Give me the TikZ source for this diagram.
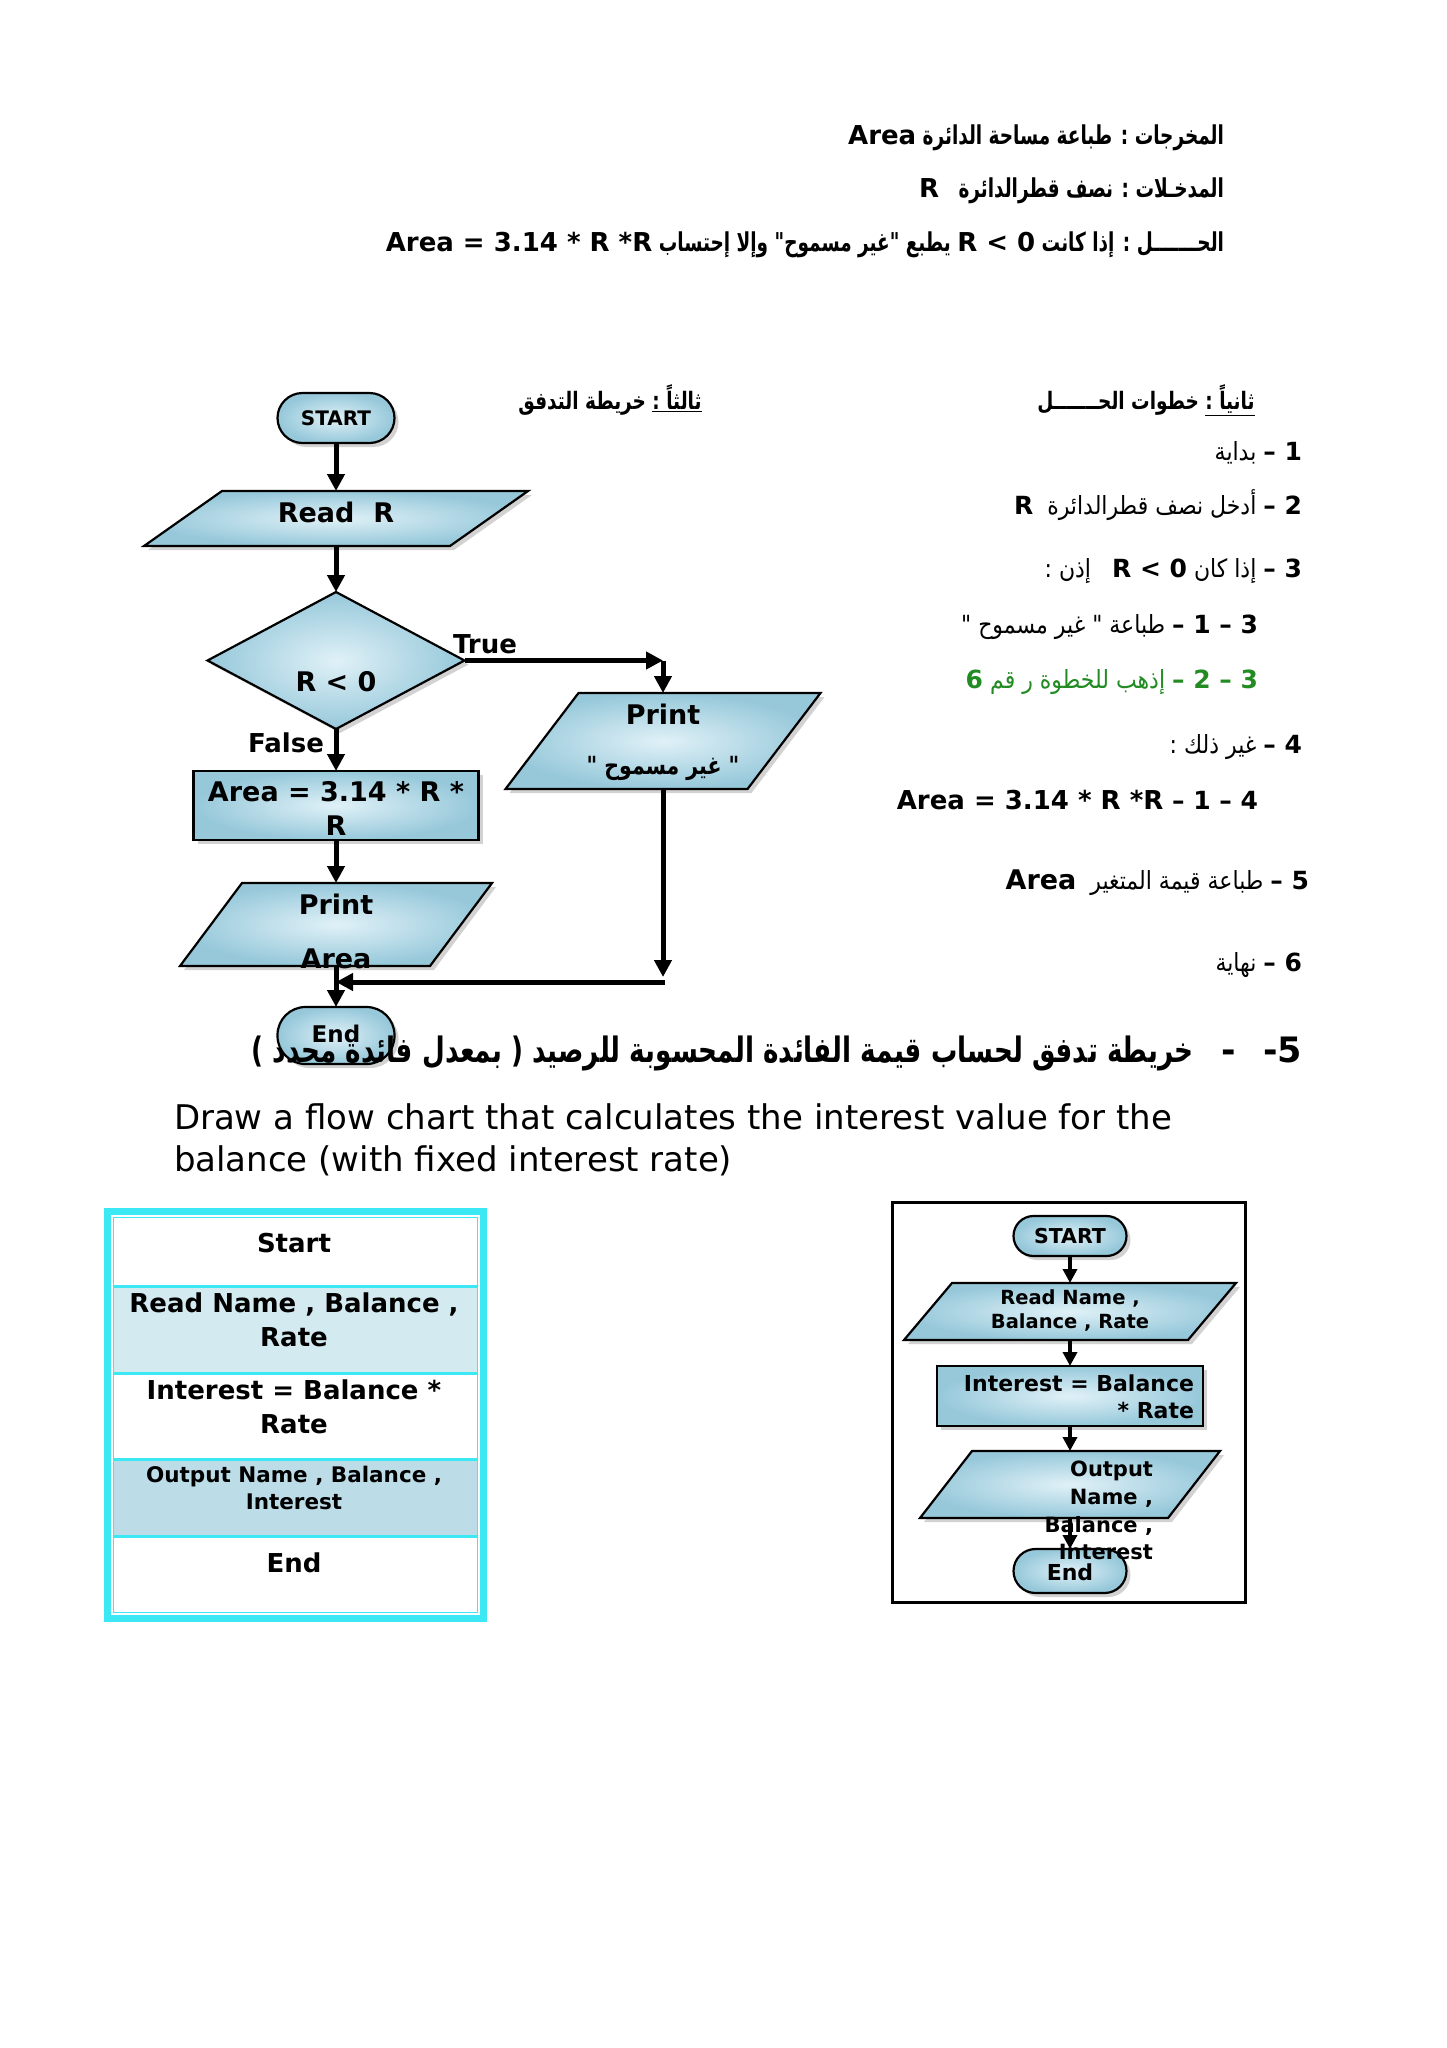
\documentclass[tikz,border=0pt]{standalone}
\usepackage{fontspec}
\setmainfont{DejaVu Sans}
\newfontfamily\arH[Script=Arabic, FakeStretch=0.71]{DejaVu Sans}
\newfontfamily\arT[Script=Arabic, FakeStretch=0.77]{DejaVu Sans}
\newfontfamily\arS[Script=Arabic, FakeStretch=0.88]{DejaVu Sans}
\newfontfamily\arQ[Script=Arabic, FakeStretch=0.75]{DejaVu Sans}
\newfontfamily\arP[Script=Arabic, FakeStretch=0.82]{DejaVu Sans}
\usetikzlibrary{shapes.geometric,shadows,calc,arrows.meta}
\TeXXeTstate=1
\definecolor{sbA}{RGB}{150,200,218}
\definecolor{sbB}{RGB}{224,241,247}
\definecolor{cyanb}{RGB}{60,232,244}
\definecolor{rowA}{RGB}{212,234,241}
\definecolor{rowB}{RGB}{188,221,232}
\definecolor{stepgreen}{RGB}{34,139,34}
\newcommand\fsz[1]{\fontsize{#1}{#1}\selectfont}
\newcommand\lat[1]{{\normalfont\bfseries #1}}
\newcommand\paraflow[2]{\path[shp] ($(#1.north west)+(#2,0)$) -- (#1.north east) -- ($(#1.south east)-(#2,0)$) -- (#1.south west) -- cycle;}
\tikzset{
  shp/.style={draw=black, line width=2.2pt, inner color=sbB, outer color=sbA,
    drop shadow={shadow xshift=4pt, shadow yshift=-4pt, fill=black!35}},
  ph/.style={draw=none, rectangle},
  arr/.style={line width=5pt, -{Triangle[length=17pt,width=17pt]}},
  arrs/.style={line width=4pt, -{Triangle[length=14pt,width=14pt]}},
  fc/.style={font=\bfseries\fsz{27}},
  ar/.style={font=\arS\fsz{25}},
}
\begin{document}
\begin{tikzpicture}[x=1pt, y=-1pt, every node/.style={inner sep=0pt, outer sep=0pt}]
\useasboundingbox (0,0) rectangle (1447,2048);
\fill[white] (0,0) rectangle (1447,2048);

% ---------- header lines ----------
\node[anchor=east, font=\arH\bfseries\fsz{26}] (h1) at (1224,138) {\beginR المخرجات : طباعة مساحة الدائرة \lat{Area}\endR};
\node[anchor=east, font=\arH\bfseries\fsz{26}] (h2) at (1224,191) {\beginR المدخـلات : نصف قطرالدائرة\ \ \ \lat{R}\endR};
\node[anchor=east, font=\arH\bfseries\fsz{26}] (h3) at (1224,245) {\beginR الحـــــــل : إذا كانت \beginL\lat{R < 0}\endL\ يطبع "غير مسموح" وإلا إحتساب \beginL\lat{Area = 3.14 * R *R}\endL\endR};

% ---------- section titles ----------
\node[font=\arT\bfseries\fsz{24}] (tflow) at (610,400) {\beginR\underline{\beginR ثالثاً :\endR} خريطة التدفق\endR};
\node[font=\arT\bfseries\fsz{24}] (tsteps) at (1146,400) {\beginR\underline{\beginR ثانياً :\endR} خطوات الحـــــــل\endR};

% ---------- steps ----------
\node[ar, anchor=east] (s1) at (1302,453) {\beginR\lat{1 –} بداية\endR};
\node[ar, anchor=east] (s2) at (1302,505) {\beginR\lat{2 –} أدخل نصف قطرالدائرة\ \ \lat{R}\endR};
\node[ar, anchor=east] (s3) at (1302,571) {\beginR\lat{3 –} إذا كان \beginL\lat{R < 0}\endL\ \ \ إذن :\endR};
\node[ar, anchor=east] (s31) at (1258,627) {\beginR\lat{3 – 1 –}\ طباعة " غير مسموح "\endR};
\node[ar, anchor=east, text=stepgreen] (s32) at (1258,682) {\beginR\lat{3 – 2 –}\ إذهب للخطوة ر قم \lat{6}\endR};
\node[ar, anchor=east] (s4) at (1302,747) {\beginR\lat{4 –}\ غير ذلك :\endR};
\node[ar, anchor=east] (s41) at (1258,800) {\beginR\lat{4 – 1 – }\beginL\lat{\fsz{26}Area = 3.14 * R *R}\endL\endR};
\node[ar, anchor=east] (s5) at (1309,883) {\beginR\lat{5 –} طباعة قيمة المتغير\ \ \lat{\fsz{27}Area}\endR};
\node[ar, anchor=east] (s6) at (1302,965) {\beginR\lat{6 –} نهاية\endR};

% ---------- flowchart 1 ----------
\node[shp, rectangle, rounded corners=25pt, minimum width=117pt, minimum height=50pt, font=\bfseries\fsz{20}] (start) at (336,418) {START};
\node[ph, minimum width=384pt, minimum height=55pt] (read) at (336,518.5) {};
\paraflow{read}{78}
\node[shp, diamond, minimum width=257pt, minimum height=137pt] (dec) at (336,660.5) {};
\node[ph, minimum width=315pt, minimum height=96pt] (prt) at (663,741) {};
\paraflow{prt}{73}
\node[shp, rectangle, minimum width=285pt, minimum height=69pt] (proc) at (336,805.5) {};
\node[ph, minimum width=312pt, minimum height=83pt] (pa) at (336,924.5) {};
\paraflow{pa}{62}
\node[shp, rectangle, rounded corners=28pt, minimum width=117pt, minimum height=57pt] (end) at (336,1035.5) {};

\coordinate (tcorner) at (663,660.5);
\coordinate (jdown) at (663,977);
\coordinate (jright) at (665,982);
\coordinate (jleft) at (336,982);
\draw[arr] (start.south) -- (read.north);
\draw[arr] (read.south) -- (dec.north);
\draw[arr] (dec.east) -- (tcorner);
\draw[arr] (tcorner) -- (prt.north);
\draw[arr] (dec.south) -- (proc.north);
\draw[arr] (proc.south) -- (pa.north);
\draw[arr] (pa.south) -- (end.north);
\draw[arr] (prt.south) -- (jdown);
\draw[arr] (jright) -- (jleft);

\node[fc] (readT) at (336,512) {Read\ \ R};
\node[fc] (decT) at (336,682) {R < 0};
\node[fc, font=\bfseries\fsz{26}] (trueL) at (485,644) {True};
\node[fc, font=\bfseries\fsz{26}] (falseL) at (286,743) {False};
\node[fc] (prtT1) at (663,714) {Print};
\node[font=\arP\bfseries\fsz{25}] (prtT2) at (663,768) {\beginR" غير مسموح "\endR};
\node[fc, align=center, font=\bfseries\fontsize{27}{34}\selectfont] (procT) at (336,808) {Area = 3.14 * R *\\R};
\node[fc] (paT1) at (336,904) {Print};
\node[fc] (paT2) at (336,959) {Area};
\node[font=\bfseries\fsz{23}] (endT) at (336,1034) {End};

% ---------- heading 5 and English text ----------
\node[anchor=east, font=\arQ\bfseries\fsz{35}] (q5) at (1302,1053) {\beginR\lat{-5}\ \ \ \lat{-}\ \ \ خريطة تدفق لحساب قيمة الفائدة المحسوبة للرصيد ( بمعدل فائدة محدد )\endR};
\node[anchor=west, align=left, font=\fontsize{34}{42}\selectfont] (eng) at (174,1140) {Draw a flow chart that calculates the interest value for the\\balance (with fixed interest rate)};

% ---------- table ----------
\fill[rowA] (114,1286) rectangle (478,1373);
\fill[rowB] (114,1459) rectangle (478,1536);
\node[draw=cyanb, line width=10pt, minimum width=373pt, minimum height=404pt] (tbl) at (295.5,1415) {};
\draw[white, line width=1.2pt] (tbl.north west) ++(3,3) rectangle ($(tbl.south east)+(-3,-3)$);
\foreach \yy in {1286,1373,1459,1536} \draw[cyanb, line width=3pt] (114,\yy) -- (478,\yy);
\node[font=\bfseries\fsz{26}] (r1) at (294,1243) {Start};
\node[font=\bfseries\fontsize{26}{34}\selectfont, align=center] (r2) at (294,1320) {Read Name , Balance ,\\Rate};
\node[font=\bfseries\fontsize{26}{34}\selectfont, align=center] (r3) at (294,1407) {Interest = Balance *\\Rate};
\node[font=\bfseries\fontsize{21.5}{27}\selectfont, align=center] (r4) at (294,1487.5) {Output Name , Balance ,\\Interest};
\node[font=\bfseries\fsz{26}] (r5) at (294,1563) {End};

% ---------- flowchart 2 ----------
\node[draw, line width=3pt, minimum width=353pt, minimum height=400pt] (frame2) at (1068.5,1402) {};
\node[shp, rectangle, rounded corners=20pt, minimum width=113pt, minimum height=40pt, font=\bfseries\fsz{20.5}] (start2) at (1070,1236) {START};
\node[ph, minimum width=332pt, minimum height=57pt] (read2) at (1070,1311.5) {};
\paraflow{read2}{48}
\node[shp, rectangle, minimum width=266pt, minimum height=60pt] (proc2) at (1070,1396) {};
\node[ph, minimum width=300pt, minimum height=67pt] (out2) at (1070,1484.5) {};
\paraflow{out2}{52}
\node[shp, rectangle, rounded corners=22pt, minimum width=113pt, minimum height=44pt] (end2) at (1070,1571) {};
\draw[arrs] (start2.south) -- (read2.north);
\draw[arrs] (read2.south) -- (proc2.north);
\draw[arrs] (proc2.south) -- (out2.north);
\draw[arrs] (out2.south) -- (end2.north);
\node[align=center, font=\bfseries\fontsize{19.5}{24}\selectfont] (read2T) at (1070,1310) {Read Name ,\\Balance , Rate};
\node[anchor=east, align=right, font=\bfseries\fontsize{22}{27}\selectfont] (proc2T) at (1194,1396.5) {Interest = Balance\\* Rate};
\node[anchor=east, align=right, font=\bfseries\fontsize{21}{27.7}\selectfont] (out2T) at (1153,1510.5) {Output\\Name ,\\Balance ,\\Interest};
\node[font=\bfseries\fsz{22}] (end2T) at (1070,1572) {End};
\end{tikzpicture}
\end{document}
